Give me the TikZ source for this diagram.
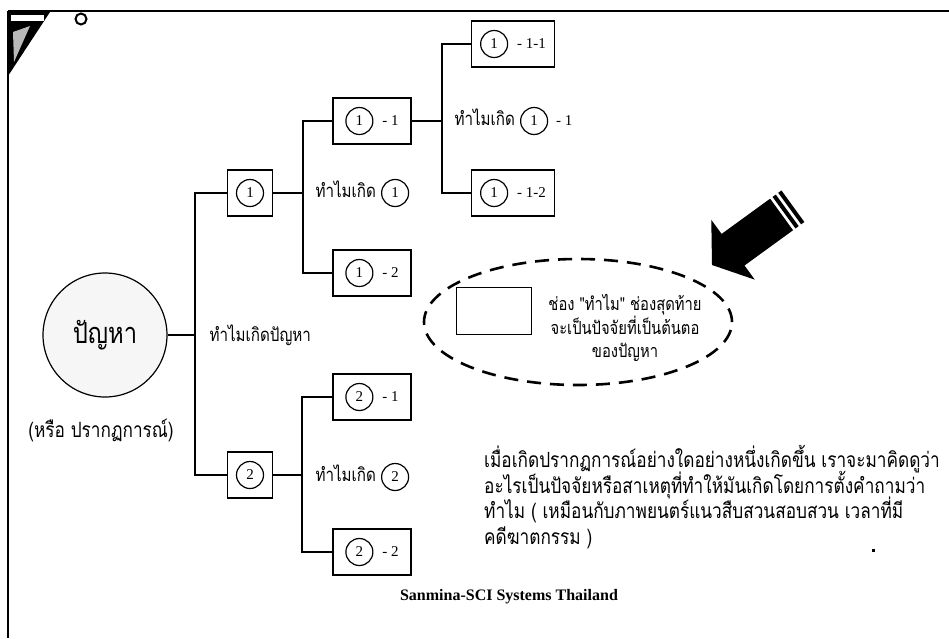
\documentclass[tikz,border=0pt]{standalone}
\usepackage{fontspec}
\setmainfont{Liberation Serif}
\newfontfamily\thai[Script=Thai,FakeStretch=0.82]{Loma}
\usetikzlibrary{shapes.geometric}
\newcommand\cnum[1]{\tikz[baseline=(cn.base)]\node[draw,circle,line width=1.2pt,minimum size=27pt,inner sep=0pt,font=\rmfamily\fontsize{15}{15}\selectfont](cn){#1};}
\begin{document}
\begin{tikzpicture}[x=1pt,y=-1pt,
  boxs/.style={draw,line width=1.6pt,minimum height=46pt,inner sep=0pt,font=\rmfamily\fontsize{15}{17}\selectfont},
  sbox/.style={boxs,minimum width=45pt},
  wbox/.style={boxs,minimum width=78pt},
  wwbox/.style={boxs,minimum width=83pt},
  conn/.style={line width=1.3pt},
  thaitxt/.style={font=\thai\fontsize{18.5}{20}\selectfont},
  paratxt/.style={font=\thai\fontsize{21}{24}\selectfont,anchor=base west,inner sep=0pt}]
\useasboundingbox (0,0) rectangle (949,638);
\fill[white] (0,0) rectangle (949,638);
% frame
\draw[line width=2pt] (8,11) -- (949,11);
\draw[line width=2pt] (8,11) -- (8,638);
\fill[black] (8,12) -- (50,12) -- (8,76) -- cycle;
\fill[gray!55] (13,32) -- (30,26) -- (14,62) -- cycle;
\fill[white] (11,15) rectangle (44,21);
\draw[line width=2pt,fill=white] (81,19) circle (5.5pt);
% main problem
\node[circle,draw,line width=1.2pt,minimum size=124pt,inner sep=0pt,fill=gray!7,font=\thai\fontsize{29}{30}\selectfont] (prob) at (105,335) {ปัญหา};
\node[font=\thai\fontsize{21}{24}\selectfont] (probsub) at (101,430) {(หรือ ปรากฏการณ์)};
\node[thaitxt,anchor=west] (why0) at (206,335) {ทำไมเกิดปัญหา};
% boxes
\node[sbox] (b1) at (250,193) {\cnum{1}};
\node[sbox] (b2) at (250,475) {\cnum{2}};
\node[wbox] (b11) at (372,121) {\cnum{1}\hspace{9pt}- 1};
\node[wbox] (b12) at (372,273) {\cnum{1}\hspace{9pt}- 2};
\node[wbox] (b21) at (372,397) {\cnum{2}\hspace{9pt}- 1};
\node[wbox] (b22) at (372,552) {\cnum{2}\hspace{9pt}- 2};
\node[wwbox] (b111) at (513,44) {\cnum{1}\hspace{9pt}- 1-1};
\node[wwbox] (b112) at (513,193) {\cnum{1}\hspace{9pt}- 1-2};
% connectors
\coordinate (t0) at (195,335);
\coordinate (s1) at (303,193);
\coordinate (s2) at (302,475);
\coordinate (s11) at (442,121);
\draw[conn] (prob.east) -- (t0);
\draw[conn] (b1.west) -- (b1.west -| t0) -- (b2.west -| t0) -- (b2.west);
\draw[conn] (b1.east) -- (s1);
\draw[conn] (b11.west) -- (b11.west -| s1) -- (b12.west -| s1) -- (b12.west);
\draw[conn] (b2.east) -- (s2);
\draw[conn] (b21.west) -- (b21.west -| s2) -- (b22.west -| s2) -- (b22.west);
\draw[conn] (b11.east) -- (s11);
\draw[conn] (b111.west) -- (b111.west -| s11) -- (b112.west -| s11) -- (b112.west);
% why labels
\node[thaitxt,anchor=west] (why1) at (312,193) {ทำไมเกิด \cnum{1}};
\node[thaitxt,anchor=west] (why2) at (312,477) {ทำไมเกิด \cnum{2}};
\node[thaitxt,anchor=west] (why11) at (451,121) {ทำไมเกิด \cnum{1}\hspace{8pt}{\rmfamily\fontsize{15}{15}\selectfont - 1}};
% dashed ellipse
\node[draw,ellipse,dash pattern=on 14pt off 9pt,line width=2.6pt,minimum width=308pt,minimum height=126pt] (oval) at (578,322) {};
\node[draw,line width=1.5pt,minimum width=75pt,minimum height=47pt] (keybox) at (494,311) {};
\node[align=center,font=\thai\fontsize{18}{23.5}\selectfont] (note) at (625,328) {ช่อง "ทำไม" ช่องสุดท้าย\\จะเป็นปัจจัยที่เป็นต้นตอ\\ของปัญหา};
% big arrow
\begin{scope}[shift={(712,265)},rotate=36]
\fill[black] (0,0) -- (26,37) -- (26,19.5) -- (86,19.5) -- (86,-19.5) -- (26,-19.5) -- (26,-37) -- cycle;
\fill[black] (89,-19.5) rectangle (93,19.5);
\fill[black] (96,-19.5) rectangle (100,19.5);
\end{scope}
% paragraph
\node[paratxt] (para1) at (484,467) {เมื่อเกิดปรากฏการณ์อย่างใดอย่างหนึ่งเกิดขึ้น เราจะมาคิดดูว่า};
\node[paratxt] (para2) at (484,493) {อะไรเป็นปัจจัยหรือสาเหตุที่ทำให้มันเกิดโดยการตั้งคำถามว่า};
\node[paratxt] (para3) at (484,518) {ทำไม ( เหมือนกับภาพยนตร์แนวสืบสวนสอบสวน เวลาที่มี};
\node[paratxt] (para4) at (484,544) {คดีฆาตกรรม )};
\fill (872,549) rectangle (875,552);
% caption
\node[font=\rmfamily\bfseries\fontsize{16}{18}\selectfont] (cap) at (509,597) {Sanmina-SCI Systems Thailand};
\end{tikzpicture}
\end{document}
